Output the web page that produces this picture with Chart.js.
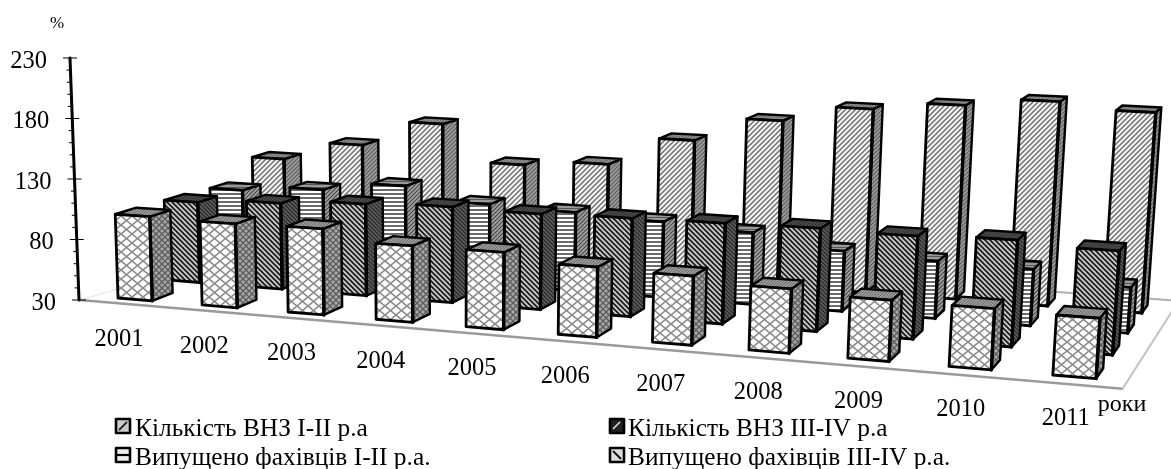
<!DOCTYPE html>
<html><head><meta charset="utf-8">
<script src="https://cdn.jsdelivr.net/npm/chart.js@4"></script>
<style>html,body{margin:0;background:#fff}canvas{display:block}</style>
</head><body><canvas id="c" width="1171" height="469"></canvas>
<script>
const years = ['2001','2002','2003','2004','2005','2006','2007','2008','2009','2010','2011'];
const yTicks = [30,80,130,180,230];
const seriesNames = ['Кількість ВНЗ І-ІІ р.а','Кількість ВНЗ ІІІ-ІV р.а','Випущено фахівців І-ІІ р.а.','Випущено фахівців ІІІ-ІV р.а.'];
const vnzLow = [112,129,152,120,125,150,171,185,192,199,194];
const vnzHigh = [98,102,106,108.5,107.6,109,110,111,110,112,109];
const gradLow = [96,101,109,98,96,93,89,79,76,75,66];
const gradHigh = [99,98,99,90.5,90.6,84.5,83,78.7,75.8,75.3,74];
const unitLabel = '%';
const categoryAxisLabel = 'роки';

const FONT = '"Liberation Serif","Times New Roman",serif';
const rows = [3,1,2,0];               // depth row of each dataset (0 = front)
const P = {a:819,b:163.3,c:118,d:35.75,e:-24.4,f:298,g:-.11,h:.1075};
const K = 1.214/1.21, W = .041, D = .42/3, TILT = 1e-4, CX = 450;

function denom(u,v){return 1+P.g*u+P.h*v;}
function project(u,v,hPx){
  const q=denom(u,v);
  const x=(P.a*u+P.b*v+P.c)/q, y=(P.d*u+P.e*v+P.f)/q;
  const h=(hPx||0)*K/q;
  return {x:x+(x-CX)*h*TILT,y:y-h};
}
function tile(w,h,bg,draw){
  const c=document.createElement('canvas');c.width=w;c.height=h;
  const g=c.getContext('2d');g.fillStyle=bg;g.fillRect(0,0,w,h);draw(g);
  return g.createPattern(c,'repeat');
}
function seg(g,col,lw,pts){g.strokeStyle=col;g.lineWidth=lw;g.beginPath();
  for(const p of pts){g.moveTo(p[0],p[1]);g.lineTo(p[2],p[3]);}g.stroke();}
const fwd=(n,bg,fg,lw)=>tile(n,n,bg,g=>seg(g,fg,lw,[[-1,n+1,n+1,-1],[-1,1,1,-1],[n-1,n+1,n+1,n-1]]));
const bwd=(n,bg,fg,lw)=>tile(n,n,bg,g=>seg(g,fg,lw,[[-1,-1,n+1,n+1],[n-1,-1,n+1,1],[-1,n-1,1,n+1]]));
const hor=(n,bg,fg,lw)=>tile(8,n,bg,g=>seg(g,fg,lw,[[0,n/2,8,n/2]]));
const lat=(w,h,bg,fg,lw)=>tile(w,h,bg,g=>seg(g,fg,lw,[[0,0,w,h],[0,h,w,0]]));
const looks=[
 {front:fwd(5,'#f4f4f4','#707070',1.5),side:fwd(4,'#9c9c9c','#5c5c5c',1.1),top:fwd(3,'#8e8e8e','#666',1)},
 {front:bwd(5,'#d0d0d0','#202020',1.9),side:bwd(4,'#606060','#2a2a2a',1.3),top:bwd(3,'#4a4a4a','#2e2e2e',1)},
 {front:hor(4,'#fff','#3a3a3a',1.5),side:fwd(4,'#a4a4a4','#444',1.1),top:hor(3,'#999','#555',1)},
 {front:lat(11,9,'#fff','#8c8c8c',1.6),side:lat(6,6,'#a8a8a8','#5c5c5c',1.3),top:fwd(3,'#9a9a9a','#6c6c6c',1)}
];
function poly(g,pts,fill){g.beginPath();pts.forEach((p,i)=>i?g.lineTo(p.x,p.y):g.moveTo(p.x,p.y));g.closePath();
  g.fillStyle=fill;g.fill();g.stroke();}

const scene={id:'scene',
 beforeDatasetsDraw(chart){
  const g=chart.ctx,sx=chart.scales.x,sy=chart.scales.y;
  const x0=sx.getPixelForValue(0),x1=sx.getPixelForValue(years.length-1);
  const y30=sy.getPixelForValue(30);
  const uOf=i=>(sx.getPixelForValue(i)-x0)/(x1-x0);
  const axisX=y=>79-(y30-y)*9/242;
  g.save();g.lineJoin='round';g.lineCap='round';
  // floor
  const fl=(a,b,col,w)=>{g.strokeStyle=col;g.lineWidth=w;g.beginPath();g.moveTo(a.x,a.y);g.lineTo(b.x,b.y);g.stroke();};
  fl({x:80,y:y30},project(1.0705,-.1),'#9a9a9a',2.5);
  fl(project(1.0705,-.1),project(1.07,1.25),'#c4c4c4',2);
  fl(project(.85,1.25),project(1.07,1.25),'#b0b0b0',2);
  g.setLineDash([2,2]);fl({x:80,y:y30},{x:118,y:y30-11},'#d8d8d8',1);g.setLineDash([]);
  // bars, back row first
  [3,2,1,0].forEach(r=>{
   const ds=rows.indexOf(r),vals=chart.data.datasets[ds].data,look=looks[ds],v=r/3;
   vals.forEach((val,i)=>{
    const u=uOf(i),hp=y30-sy.getPixelForValue(val);
    const c=(du,dv,top)=>project(u+du,v+dv,top?hp:0);
    g.strokeStyle='#000';g.lineWidth=2.4;
    poly(g,[c(W,0,0),c(W,D,0),c(W,D,1),c(W,0,1)],look.side);
    poly(g,[c(0,0,1),c(W,0,1),c(W,D,1),c(0,D,1)],look.top);
    g.lineWidth=2.8;
    poly(g,[c(0,0,0),c(W,0,0),c(W,0,1),c(0,0,1)],look.front);
    g.beginPath();const a=c(W,0,0),b=c(W,0,1);g.moveTo(a.x,a.y);g.lineTo(b.x,b.y);g.lineWidth=3.4;g.stroke();
   });
  });
  // value axis
  g.strokeStyle='#000';g.lineWidth=3;g.beginPath();
  const yTop=sy.getPixelForValue(230);
  g.moveTo(axisX(yTop),yTop);g.lineTo(axisX(y30),y30);g.stroke();
  g.lineWidth=1;g.lineCap='butt';
  for(let t=30;t<=230;t+=10){
   const y=sy.getPixelForValue(t),x=axisX(y),major=yTicks.includes(t);
   g.beginPath();g.moveTo(x-(major?7:4),y);g.lineTo(x+(major?7:0),y);g.stroke();
  }
  g.fillStyle='#000';g.textBaseline='middle';
  g.font='24.5px '+FONT;g.textAlign='right';
  yTicks.forEach(t=>{const y=sy.getPixelForValue(t);g.fillText(String(t),axisX(y)-23,y+3.5);});
  g.textAlign='center';
  years.forEach((lab,i)=>{const p=project(uOf(i),0);g.fillText(lab,p.x+1+1.2*i,p.y+41.5+.2*i);});
  g.font='24px '+FONT;g.fillText(categoryAxisLabel,1122,405);
  g.font='17px '+FONT;g.fillText(unitLabel,57,24);
  // legend
  const slots=[[116,426],[610,426],[116,455],[610,455]];
  const marks=[
   (x,y)=>{g.fillStyle='#ccc';g.fillRect(x,y,14,14);seg(g,'#222',1.8,[[x+3,y+11,x+11,y+3]]);},
   (x,y)=>{g.fillStyle='#222';g.fillRect(x,y,14,14);seg(g,'#ddd',1.6,[[x+3,y+10,x+10,y+3]]);},
   (x,y)=>{g.fillStyle='#eee';g.fillRect(x,y,14,14);seg(g,'#000',2.2,[[x+1,y+7,x+13,y+7]]);},
   (x,y)=>{g.fillStyle='#ddd';g.fillRect(x,y,14,14);seg(g,'#111',2,[[x+3,y+3,x+11,y+11]]);}
  ];
  chart.data.datasets.forEach((d,i)=>{
   const [x,cy]=slots[i],y=cy-7;
   marks[i](x,y);
   g.strokeStyle='#000';g.lineWidth=2.6;g.strokeRect(x,y,14,14);
   g.fillStyle='#000';g.font='25.4px '+FONT;g.textAlign='left';g.textBaseline='middle';
   g.fillText(d.label,(i%2?628:135),cy+3);
  });
  g.restore();
  return false;
 }};
new Chart(document.getElementById('c'),{
 type:'bar',
 data:{labels:years,datasets:[
  {label:seriesNames[0],data:vnzLow},{label:seriesNames[1],data:vnzHigh},
  {label:seriesNames[2],data:gradLow},{label:seriesNames[3],data:gradHigh}]},
 options:{responsive:false,animation:false,
  layout:{padding:{left:79,right:0,top:58,bottom:169}},
  plugins:{legend:{display:false},tooltip:{enabled:false}},
  scales:{x:{display:false,offset:false},y:{display:false,min:30,max:230}}},
 plugins:[scene]});
</script></body></html>
